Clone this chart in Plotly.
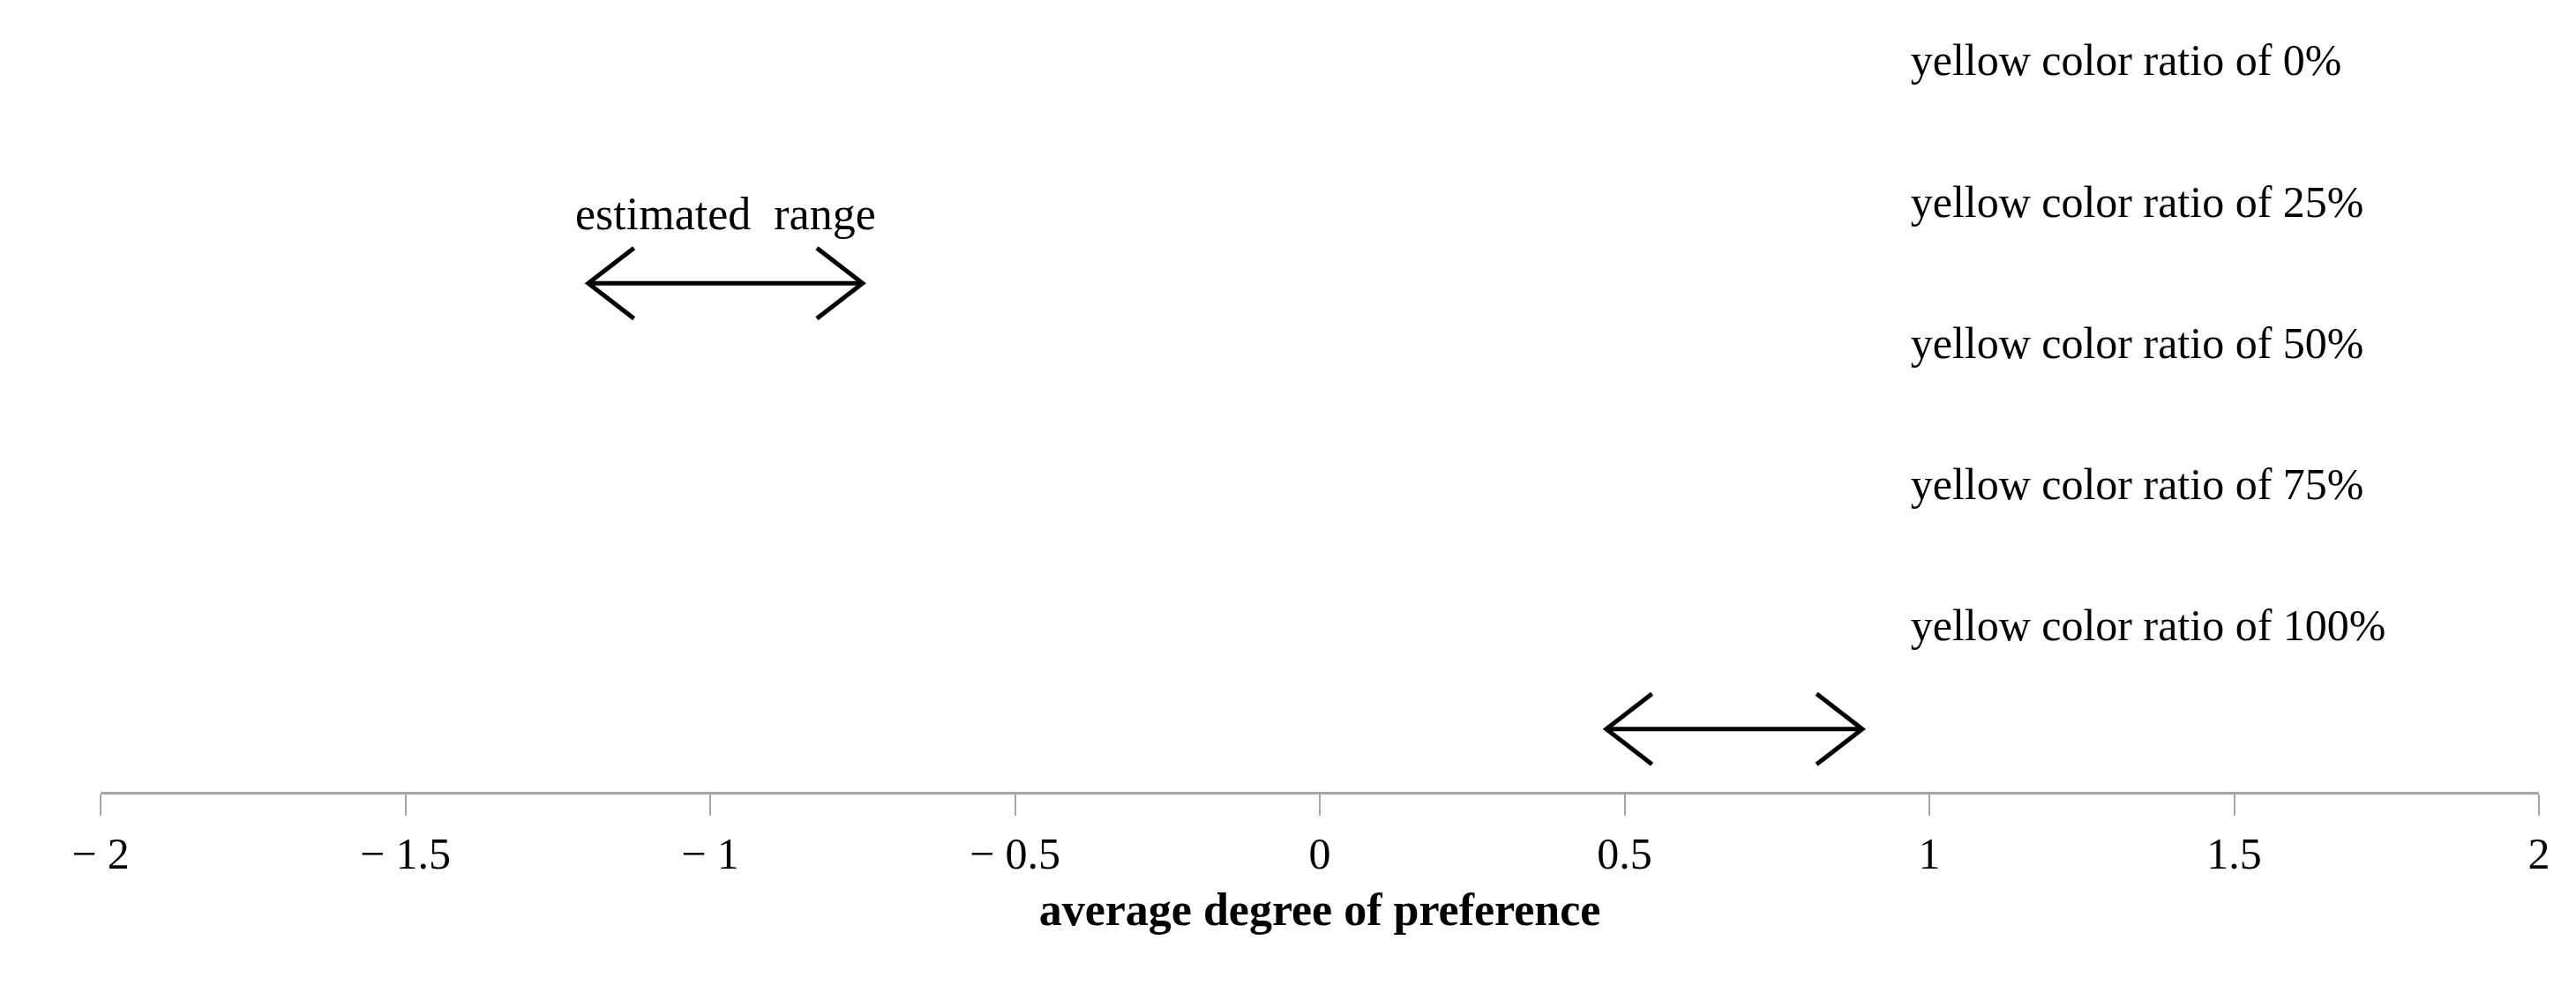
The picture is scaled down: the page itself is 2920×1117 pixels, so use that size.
import plotly.graph_objects as go

labels = ["yellow color ratio of 0%", "yellow color ratio of 25%", "yellow color ratio of 50%",
          "yellow color ratio of 75%", "yellow color ratio of 100%"]
symbols = ["circle-open", "square-open", "triangle-up-open", "diamond-open", "x-thin-open"]
values = [-1.2, 0.17, 0.85, 0.68, -0.54]
tick_vals = [-2, -1.5, -1, -0.5, 0, 0.5, 1, 1.5, 2]
tick_text = ["− 2", "− 1.5", "− 1", "− 0.5", "0", "0.5", "1", "1.5", "2"]
range1 = [-1.2, -0.75]
range2 = [0.47, 0.89]

legend_x = 0.946
legend_y = [0.927, 0.747, 0.567, 0.387, 0.207]
FONT = "Liberation Serif"
fig = go.Figure()
for v, s, ly, lab in zip(values, symbols, legend_y, labels):
    sz = 30 if s != "x-thin-open" else 32
    mk = dict(symbol=s, size=sz, color="rgba(0,0,0,0)", line=dict(color="#404040", width=2.5))
    fig.add_trace(go.Scatter(x=[v], y=[0], mode="markers", marker=mk, cliponaxis=False, showlegend=False))
    fig.add_trace(go.Scatter(x=[legend_x], y=[ly], mode="markers+text", marker=dict(mk, size=24),
                             text=[lab], textposition="middle right",
                             textfont=dict(family=FONT, size=50, color="black"),
                             cliponaxis=False, showlegend=False))

def arrow(x0, x1, y):
    hw, hh = 0.075, 0.045
    fig.add_trace(go.Scatter(x=[x0, x1], y=[y, y], mode="lines", line=dict(color="black", width=5),
                             showlegend=False, cliponaxis=False))
    for xa, d in ((x0, 1), (x1, -1)):
        fig.add_trace(go.Scatter(x=[xa + d * hw, xa, xa + d * hw], y=[y + hh, y, y - hh], mode="lines",
                                 line=dict(color="black", width=5), showlegend=False, cliponaxis=False))

arrow(range1[0], range1[1], 0.648)
arrow(range2[0], range2[1], 0.080)
fig.add_annotation(x=sum(range1) / 2, y=0.736, text="estimated  range", showarrow=False,
                   font=dict(family=FONT, size=52, color="black"))

fig.update_layout(
    width=2920, height=1117, plot_bgcolor="white", paper_bgcolor="white",
    margin=dict(l=106, r=50, t=0, b=227),
    xaxis=dict(range=[-2, 2], tickvals=tick_vals, ticktext=tick_text, showgrid=False, zeroline=False,
               showline=True, linecolor="#a6a6a6", linewidth=3, ticks="outside", ticklen=24,
               tickcolor="#a6a6a6", tickwidth=2, tickfont=dict(family=FONT, size=50, color="black"),
               title=dict(text="<b>average degree of preference</b>", font=dict(family=FONT, size=52, color="black"),
                          standoff=18)),
    yaxis=dict(range=[0, 1], visible=False, fixedrange=True),
)
fig.write_html("out.html")
